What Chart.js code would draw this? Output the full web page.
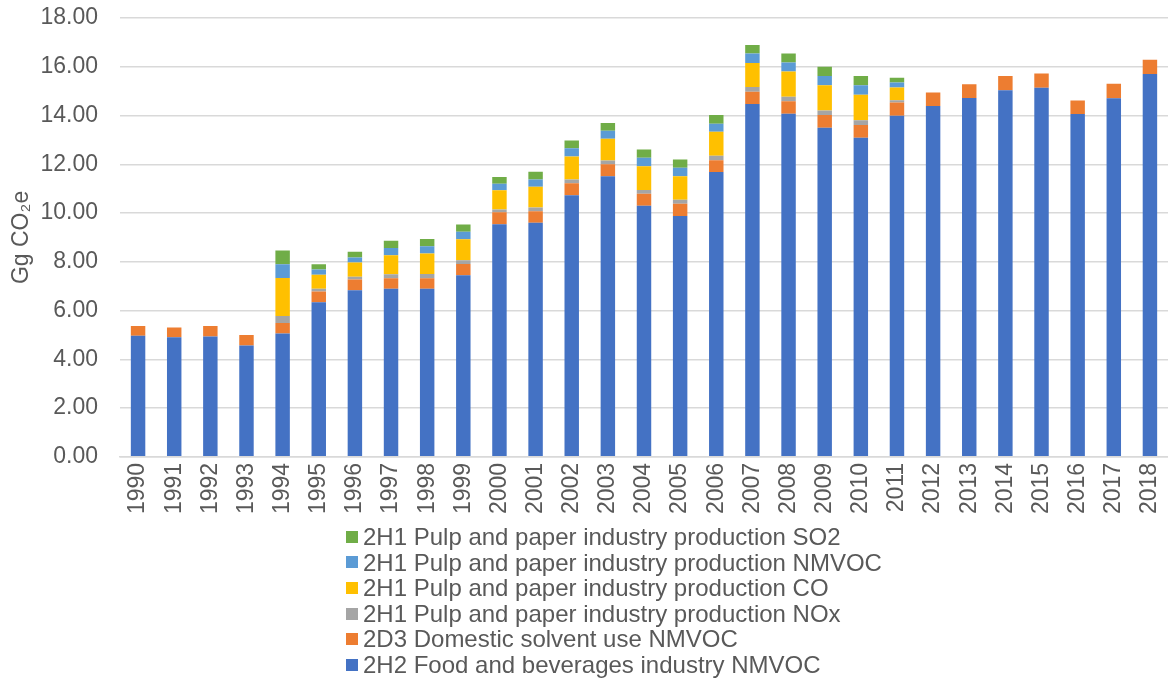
<!DOCTYPE html>
<html>
<head>
<meta charset="utf-8">
<script src="https://cdn.jsdelivr.net/npm/chart.js@4.4.1/dist/chart.umd.min.js"></script>
<style>
  html, body { margin: 0; padding: 0; background: #fff; }
  #wrap { position: relative; width: 1168px; height: 686px; }
  #legend { position: absolute; left: 346px; top: 524px; font-family: "Liberation Sans", Arial, sans-serif;
            font-size: 24px; color: #595959; line-height: 25.6px; }
  #legend .item { display: flex; align-items: center; white-space: nowrap; }
  #legend .box { width: 12px; height: 12px; margin-right: 5px; }
</style>
</head>
<body>
<div id="wrap">
  <canvas id="myChart" width="1168" height="686"></canvas>
  <div id="legend"></div>
</div>
<script>
const years = ['1990','1991','1992','1993','1994','1995','1996','1997','1998','1999',
  '2000','2001','2002','2003','2004','2005','2006','2007','2008','2009',
  '2010','2011','2012','2013','2014','2015','2016','2017','2018'];

// stacked bottom -> top
const foodNMVOC = [4.97,4.90,4.94,4.57,5.06,6.34,6.83,6.89,6.89,7.45,
  9.54,9.60,10.73,11.51,10.30,9.88,11.68,14.47,14.07,13.50,
  13.09,13.99,14.39,14.72,15.04,15.14,14.06,14.71,15.70];
const solventNMVOC = [0.40,0.41,0.43,0.43,0.43,0.44,0.44,0.43,0.43,0.46,
  0.49,0.47,0.49,0.49,0.49,0.50,0.49,0.51,0.52,0.52,
  0.52,0.54,0.55,0.56,0.58,0.58,0.56,0.59,0.59];
const pulpNOx = [0,0,0,0,0.29,0.11,0.12,0.17,0.18,0.15,
  0.12,0.16,0.16,0.16,0.16,0.16,0.18,0.19,0.18,0.19,
  0.20,0.10,0,0,0,0,0,0,0];
const pulpCO = [0,0,0,0,1.56,0.58,0.58,0.78,0.84,0.86,
  0.78,0.85,0.94,0.89,0.97,0.97,0.98,0.98,1.04,1.03,
  1.04,0.52,0,0,0,0,0,0,0];
const pulpNMVOC = [0,0,0,0,0.56,0.21,0.21,0.30,0.30,0.31,
  0.27,0.30,0.34,0.33,0.35,0.35,0.33,0.39,0.36,0.38,
  0.39,0.20,0,0,0,0,0,0,0];
const pulpSO2 = [0,0,0,0,0.56,0.22,0.23,0.29,0.30,0.30,
  0.28,0.31,0.32,0.31,0.34,0.34,0.36,0.35,0.37,0.38,
  0.38,0.20,0,0,0,0,0,0,0];

const FONT = '"Liberation Sans", Arial, sans-serif';
const TXT = '#595959';

function ds(label, data, color) {
  return { label: label, data: data, backgroundColor: color, borderWidth: 0,
           barPercentage: 0.4, categoryPercentage: 1.0 };
}

// html legend, one item per line, top series first
const htmlLegend = {
  id: 'htmlLegend',
  afterUpdate(chart) {
    const box = document.getElementById('legend');
    box.innerHTML = '';
    const items = chart.options.plugins.legend.labels.generateLabels(chart).reverse();
    items.forEach(function(it) {
      const row = document.createElement('div');
      row.className = 'item';
      const sw = document.createElement('span');
      sw.className = 'box';
      sw.style.background = it.fillStyle;
      const t = document.createElement('span');
      t.textContent = it.text;
      row.appendChild(sw);
      row.appendChild(t);
      box.appendChild(row);
    });
  }
};

const ctx = document.getElementById('myChart').getContext('2d');
let myChart = new Chart(ctx, {
  type: 'bar',
  data: {
    labels: years,
    datasets: [
      ds('2H2 Food and beverages industry NMVOC', foodNMVOC, '#4472C4'),
      ds('2D3 Domestic solvent use NMVOC', solventNMVOC, '#ED7D31'),
      ds('2H1 Pulp and paper industry production NOx', pulpNOx, '#A5A5A5'),
      ds('2H1 Pulp and paper industry production CO', pulpCO, '#FFC000'),
      ds('2H1 Pulp and paper industry production NMVOC', pulpNMVOC, '#5B9BD5'),
      ds('2H1 Pulp and paper industry production SO2', pulpSO2, '#70AD47')
    ]
  },
  options: {
    responsive: false,
    animation: false,
    layout: { padding: { top: 18, right: 0, left: 0, bottom: 166 } },
    plugins: {
      legend: { display: false },
      tooltip: { enabled: false }
    },
    scales: {
      x: {
        stacked: true,
        grid: { display: false, drawTicks: false },
        border: { display: true, color: '#d9d9d9', width: 1.5 },
        ticks: { color: TXT, font: { family: FONT, size: 23 }, maxRotation: 90, minRotation: 90, padding: 6, autoSkip: false },
        afterFit: function(scale) { scale.paddingLeft = 0; scale.paddingRight = 0; }
      },
      y: {
        stacked: true,
        min: 0,
        max: 18,
        grid: { color: '#d9d9d9', lineWidth: 1.5, drawTicks: false },
        border: { display: false },
        ticks: { stepSize: 2, color: TXT, font: { family: FONT, size: 23 }, padding: 22,
                 callback: function(v) { return v.toFixed(2); } },
        title: { display: true, text: 'Gg CO₂e', color: TXT, font: { family: FONT, size: 23 },
                 padding: { top: 8, bottom: 5 } },
        afterFit: function(scale) { scale.width = 120; scale.paddingTop = 0; scale.paddingBottom = 0; }
      }
    }
  },
  plugins: [htmlLegend]
});
</script>
</body>
</html>
